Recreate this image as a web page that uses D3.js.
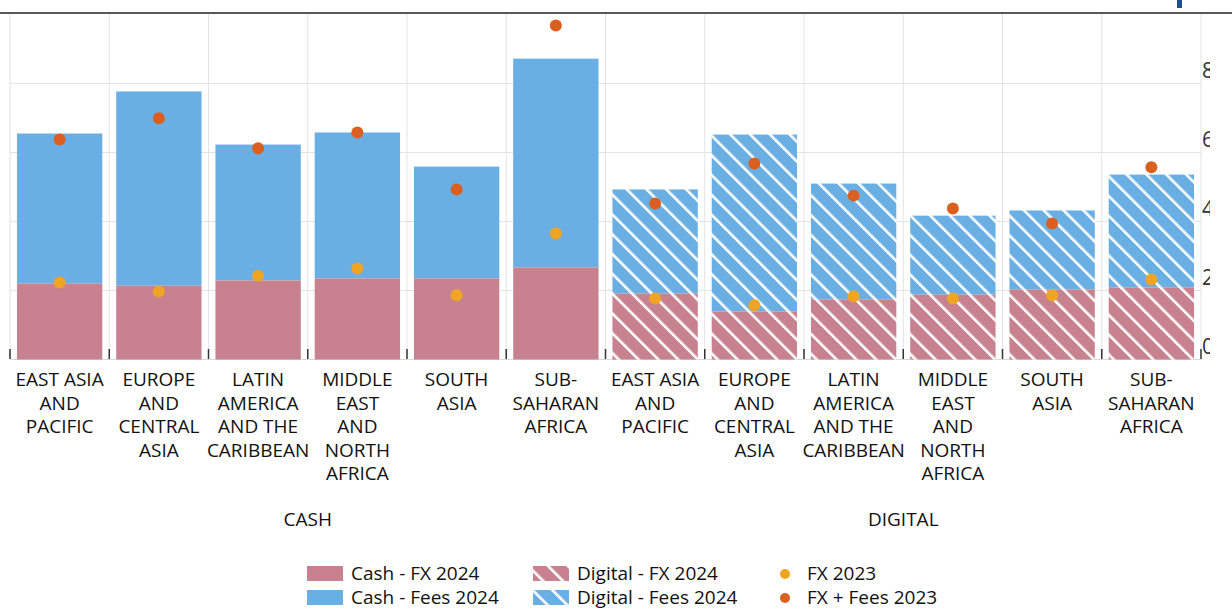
<!DOCTYPE html>
<html><head><meta charset="utf-8">
<script src="https://cdn.jsdelivr.net/npm/d3@7"></script>
<style>body{margin:0;background:#fff;font-family:"Open Sans",sans-serif;}</style>
</head><body><svg id="c" width="1232" height="610"></svg>
<script>
const regions = [["EAST ASIA","AND","PACIFIC"],["EUROPE","AND","CENTRAL","ASIA"],["LATIN","AMERICA","AND THE","CARIBBEAN"],["MIDDLE","EAST","AND","NORTH","AFRICA"],["SOUTH","ASIA"],["SUB-","SAHARAN","AFRICA"]];
const groups = ["CASH","DIGITAL"];
const cashFx24 = [2.2, 2.14, 2.29, 2.35, 2.35, 2.67];
const cashTotal24 = [6.55, 7.77, 6.23, 6.58, 5.59, 8.72];
const cashFx23 = [2.23, 1.97, 2.43, 2.64, 1.86, 3.65];
const cashFxFees23 = [6.38, 6.99, 6.12, 6.58, 4.93, 9.68];
const digFx24 = [1.91, 1.39, 1.74, 1.88, 2.03, 2.09];
const digTotal24 = [4.93, 6.52, 5.1, 4.17, 4.32, 5.36];
const digFx23 = [1.77, 1.57, 1.83, 1.77, 1.86, 2.32];
const digFxFees23 = [4.52, 5.68, 4.75, 4.38, 3.94, 5.57];
const yTicks = [0, 2, 4, 6, 8];

const pink = "#c8828f", blue = "#6aafe3", orange = "#efa522", red = "#db5f1f";
const svg = d3.select("#c");
const rows = [];
groups.forEach((g, gi) => regions.forEach((r, i) => rows.push({
  key: g + i, g, label: r, digital: gi === 1,
  fx: gi ? digFx24[i] : cashFx24[i], total: gi ? digTotal24[i] : cashTotal24[i],
  fx23: gi ? digFx23[i] : cashFx23[i], ff23: gi ? digFxFees23[i] : cashFxFees23[i]
})));

const x = d3.scaleBand().domain(rows.map(d => d.key)).range([10, 1201]).paddingInner(0.14).paddingOuter(0.07);
const y = d3.scaleLinear().domain([0, 10]).range([359.5, 14.5]);

const defs = svg.append("defs");
[["hp", pink], ["hb", blue]].forEach(([id, c]) => {
  const p = defs.append("pattern").attr("id", id).attr("patternUnits", "userSpaceOnUse")
    .attr("width", 14).attr("height", 14).attr("patternTransform", "rotate(-45)");
  p.append("rect").attr("width", 14).attr("height", 14).attr("fill", c);
  p.append("rect").attr("x", 0).attr("width", 2.6).attr("height", 14).attr("fill", "#fff");
});
defs.append("clipPath").attr("id", "clipR").append("rect").attr("width", 1210).attr("height", 610);

// top rule
svg.append("line").attr("x1", 0).attr("x2", 1232).attr("y1", 13).attr("y2", 13).attr("stroke", "#222").attr("stroke-width", 1.5);
svg.append("rect").attr("x", 1177).attr("y", 0).attr("width", 5).attr("height", 8).attr("fill", "#1f4e8c");

// grid
const bounds = d3.range(13).map(k => 10 + k * (1191 / 12));
svg.append("g").selectAll("line").data(bounds).join("line")
  .attr("x1", d => d).attr("x2", d => d).attr("y1", 14).attr("y2", 359).attr("stroke", "#e3e3e3");
svg.append("g").selectAll("line").data(yTicks.slice(1)).join("line")
  .attr("x1", 10).attr("x2", 1201).attr("y1", d => y(d)).attr("y2", d => y(d)).attr("stroke", "#e3e3e3");
svg.append("g").attr("clip-path", "url(#clipR)").selectAll("text").data(yTicks).join("text")
  .attr("x", 1202).attr("y", d => y(d) - 6).attr("font-size", 21).attr("fill", "#333").text(d => d);
svg.append("line").attr("x1", 10).attr("x2", 1201).attr("y1", 359.5).attr("y2", 359.5).attr("stroke", "#d9d9d9");
svg.append("g").selectAll("line").data(bounds).join("line")
  .attr("x1", d => d).attr("x2", d => d).attr("y1", 349).attr("y2", 359).attr("stroke", "#333").attr("stroke-width", 1.5);

// bars
const bars = svg.append("g");
bars.selectAll(".fees").data(rows).join("rect")
  .attr("x", d => x(d.key)).attr("width", x.bandwidth())
  .attr("y", d => y(d.total)).attr("height", d => y(d.fx) - y(d.total))
  .attr("fill", d => d.digital ? "url(#hb)" : blue);
bars.selectAll(".fx").data(rows).join("rect").attr("class", "fx")
  .attr("x", d => x(d.key)).attr("width", x.bandwidth())
  .attr("y", d => y(d.fx)).attr("height", d => y(0) - y(d.fx))
  .attr("fill", d => d.digital ? "url(#hp)" : pink);

const cx = d => x(d.key) + x.bandwidth() / 2;
svg.append("g").selectAll("circle").data(rows).join("circle")
  .attr("cx", cx).attr("cy", d => y(d.fx23)).attr("r", 6).attr("fill", orange);
svg.append("g").selectAll("circle").data(rows).join("circle")
  .attr("cx", cx).attr("cy", d => y(d.ff23)).attr("r", 6).attr("fill", red);

// category labels
const lab = svg.append("g").attr("font-size", 19).attr("fill", "#111").attr("text-anchor", "middle");
rows.forEach(d => {
  const t = lab.append("text").attr("x", cx(d)).attr("y", 386);
  d.label.forEach((l, i) => t.append("tspan").attr("x", cx(d)).attr("dy", i ? 23.5 : 0).text(l));
});
groups.forEach(g => {
  const keys = rows.filter(r => r.g === g);
  const mid = (x(keys[0].key) + x(keys[5].key) + x.bandwidth()) / 2;
  lab.append("text").attr("x", mid).attr("y", 526).text(g);
});

// legend
const legend = [
  {t: "Cash - FX 2024", f: pink, x: 307, y: 574, s: "r"},
  {t: "Cash - Fees 2024", f: blue, x: 307, y: 598, s: "r"},
  {t: "Digital - FX 2024", f: "url(#hp)", x: 533, y: 574, s: "r"},
  {t: "Digital - Fees 2024", f: "url(#hb)", x: 533, y: 598, s: "r"},
  {t: "FX 2023", f: orange, x: 779, y: 574, s: "c"},
  {t: "FX + Fees 2023", f: red, x: 779, y: 598, s: "c"}
];
const lg = svg.append("g").attr("font-size", 19).attr("fill", "#111");
legend.forEach(l => {
  if (l.s === "r") lg.append("rect").attr("x", l.x).attr("y", l.y - 8).attr("width", 36).attr("height", 15).attr("fill", l.f);
  else lg.append("circle").attr("cx", l.x + 6).attr("cy", l.y).attr("r", 5).attr("fill", l.f);
  lg.append("text").attr("x", l.x + (l.s === "r" ? 44 : 28)).attr("y", l.y + 6).text(l.t);
});
</script></body></html>
